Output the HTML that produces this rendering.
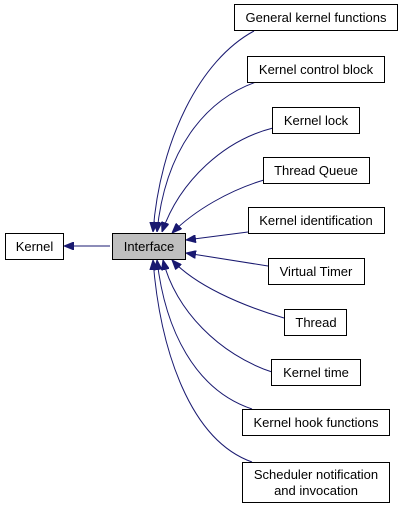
<!DOCTYPE html>
<html><head><meta charset="utf-8"><style>
body{margin:0;background:#fff;width:403px;height:508px;overflow:hidden}
text{font-family:"Liberation Sans",sans-serif;font-size:13px;fill:#000}
</style></head><body>
<svg width="403" height="508" viewBox="0 0 403 508" xmlns="http://www.w3.org/2000/svg">
<defs><marker id="a" viewBox="0 0 10 8" refX="10" refY="4" markerWidth="10" markerHeight="8" markerUnits="userSpaceOnUse" orient="auto"><path d="M0,0L10,4L0,8Z" fill="#191970" stroke="#191970"/></marker></defs>
<g fill="none" stroke="#191970" stroke-width="1" marker-end="url(#a)">
<path d="M110,246 L64,246"/>
<path d="M254,31 C200,60 160,140 153,232"/>
<path d="M256,82 C205,100 165,150 157,232"/>
<path d="M273,128 C225,140 180,180 162,232"/>
<path d="M264,180 C230,190 195,210 172,233"/>
<path d="M248,232 L186,240"/>
<path d="M268,266 L186,253"/>
<path d="M284,318 C240,305 195,285 172,260"/>
<path d="M272,372 C220,355 175,310 163,260"/>
<path d="M252,409 C195,390 165,330 157,260"/>
<path d="M252,462 C190,440 160,350 153,260"/>
</g>
<g stroke="#000" stroke-width="1" fill="#fff">
<rect x="5.5" y="233.5" width="58" height="26"/>
<rect x="112.5" y="233.5" width="73" height="26" fill="#bfbfbf"/>
<rect x="234.5" y="4.5" width="163" height="26"/>
<rect x="247.5" y="56.5" width="137" height="26"/>
<rect x="272.5" y="107.5" width="87" height="26"/>
<rect x="263.5" y="157.5" width="106" height="26"/>
<rect x="248.5" y="207.5" width="136" height="26"/>
<rect x="268.5" y="258.5" width="96" height="26"/>
<rect x="284.5" y="309.5" width="62" height="26"/>
<rect x="271.5" y="359.5" width="89" height="26"/>
<rect x="242.5" y="409.5" width="147" height="26"/>
<rect x="242.5" y="462.5" width="147" height="40"/>
</g>
<g text-anchor="middle">
<text x="34.5" y="251">Kernel</text>
<text x="149" y="251">Interface</text>
<text x="316" y="22">General kernel functions</text>
<text x="316" y="74">Kernel control block</text>
<text x="316" y="125">Kernel lock</text>
<text x="316" y="175">Thread Queue</text>
<text x="316" y="225">Kernel identification</text>
<text x="316" y="276">Virtual Timer</text>
<text x="316" y="327">Thread</text>
<text x="316" y="377">Kernel time</text>
<text x="316" y="427">Kernel hook functions</text>
<text x="316" y="479">Scheduler notification</text>
<text x="316" y="495">and invocation</text>
</g>
</svg>
</body></html>
